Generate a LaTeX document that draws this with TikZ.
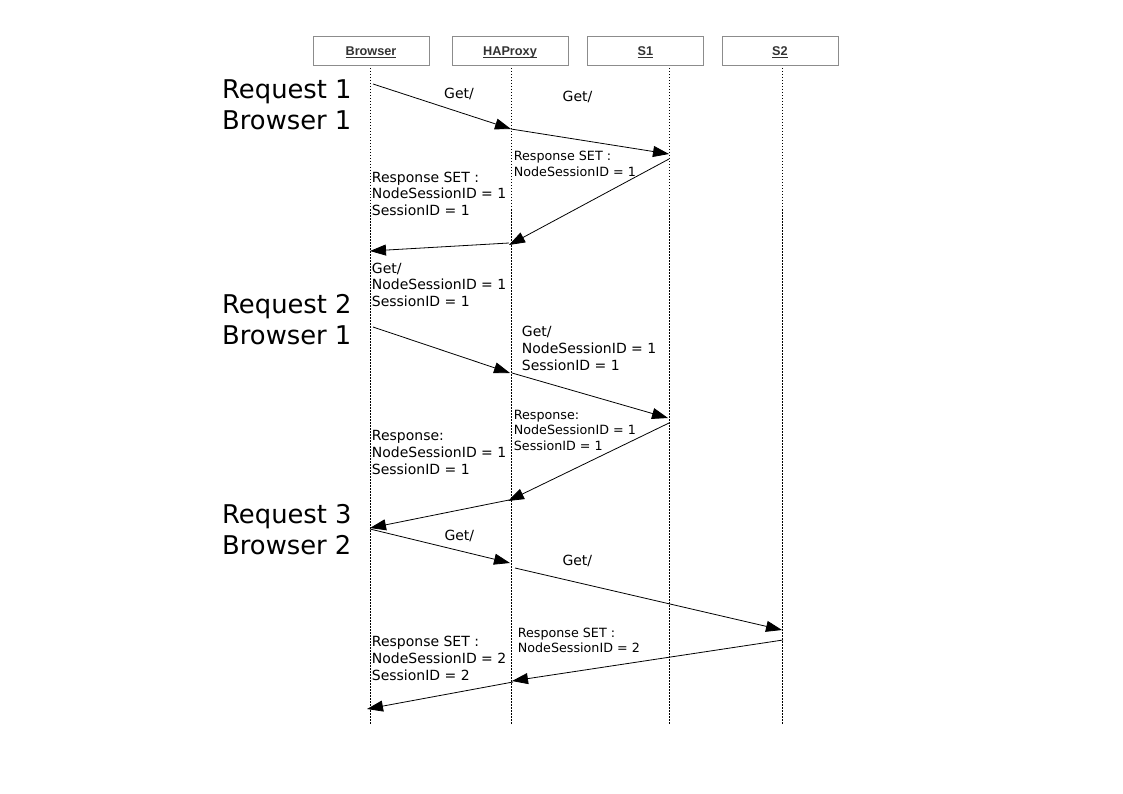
\documentclass[tikz,border=0pt]{standalone}
\usepackage{fontspec}
\setmainfont{DejaVu Sans}
\newfontfamily\hdrfont{Liberation Sans}
\usetikzlibrary{arrows.meta}
\newcommand{\hdrul}[1]{\underline{\smash{#1}}}
\begin{document}
\begin{tikzpicture}[x=1pt,y=-1pt,
  hdrbox/.style={draw=black!45, fill=white, line width=0.8pt, minimum width=116pt, minimum height=29pt, inner sep=0pt, text height=10pt, text depth=0pt, font=\hdrfont\bfseries\fontsize{12.7}{14}\selectfont, text=black!80},
  lifeline/.style={line width=0.8pt, dash pattern=on 1.5pt off 1.5pt},
  msg/.style={line width=0.8pt, -{Triangle[length=16pt,width=11pt]}},
  big/.style={anchor=north west, inner sep=0pt, align=left, font=\fontsize{25.8}{31}\selectfont},
  med/.style={anchor=north west, inner sep=0pt, align=left, font=\fontsize{14}{16.9}\selectfont},
  sml/.style={anchor=north west, inner sep=0pt, align=left, font=\fontsize{12.7}{15.5}\selectfont},
  getlbl/.style={anchor=base west, inner sep=0pt, font=\fontsize{14}{16.9}\selectfont}
]
\useasboundingbox (0,0) rectangle (1123,794);
\fill[white] (0,0) rectangle (1123,794);

% lifelines
\coordinate (BroTop) at (370,65);  \coordinate (BroBot) at (370,725);
\coordinate (HAPTop) at (511,65);  \coordinate (HAPBot) at (511,725);
\coordinate (SoneTop) at (669,65); \coordinate (SoneBot) at (669,725);
\coordinate (StwoTop) at (782,65); \coordinate (StwoBot) at (782,725);
\draw[lifeline] (BroTop) -- (BroBot);
\draw[lifeline] (HAPTop) -- (HAPBot);
\draw[lifeline] (SoneTop) -- (SoneBot);
\draw[lifeline] (StwoTop) -- (StwoBot);

% headers
\node[hdrbox] (Bro) at (371,50.5) {\hdrul{Browser}};
\node[hdrbox] (HAP) at (510,50.5) {\hdrul{HAProxy}};
\node[hdrbox] (Sone) at (645.5,50.5) {\hdrul{S1}};
\node[hdrbox] (Stwo) at (780,50.5) {\hdrul{S2}};

% message end points
\coordinate (a1s) at (373,84);   \coordinate (a1e) at (511,129);
\coordinate (a2s) at (511,129);  \coordinate (a2e) at (669,154);
\coordinate (a3s) at (669,159);  \coordinate (a3e) at (509,245);
\coordinate (a4s) at (509,243);  \coordinate (a4e) at (370,251);
\coordinate (a5s) at (373,327);  \coordinate (a5e) at (510,373);
\coordinate (a6s) at (512,373);  \coordinate (a6e) at (668,418);
\coordinate (a7s) at (669,423);  \coordinate (a7e) at (508,501);
\coordinate (a8s) at (509,500);  \coordinate (a8e) at (370,528);
\coordinate (a9s) at (370,529);  \coordinate (a9e) at (510,563);
\coordinate (a10s) at (515,568); \coordinate (a10e) at (782,630);
\coordinate (a11s) at (783,640); \coordinate (a11e) at (512,681);
\coordinate (a12s) at (513,682); \coordinate (a12e) at (367,709);

\draw[msg] (a1s) -- (a1e);
\draw[msg] (a2s) -- (a2e);
\draw[msg] (a3s) -- (a3e);
\draw[msg] (a4s) -- (a4e);
\draw[msg] (a5s) -- (a5e);
\draw[msg] (a6s) -- (a6e);
\draw[msg] (a7s) -- (a7e);
\draw[msg] (a8s) -- (a8e);
\draw[msg] (a9s) -- (a9e);
\draw[msg] (a10s) -- (a10e);
\draw[msg] (a11s) -- (a11e);
\draw[msg] (a12s) -- (a12e);

% big labels
\node[big] (r1) at (222,79) {Request 1\\Browser 1};
\node[big] (r2) at (222,294) {Request 2\\Browser 1};
\node[big] (r3) at (222,504) {Request 3\\Browser 2};

% message labels
\node[getlbl] (g1) at (444,98.3) {Get/};
\node[getlbl] (g2) at (562.5,101.7) {Get/};
\node[sml] (t1) at (513.7,151.2) {Response SET :\\NodeSessionID = 1};
\node[med] (t2) at (371.7,171.5) {Response SET :\\NodeSessionID = 1\\SessionID = 1};
\node[med] (t3) at (371.7,262.5) {Get/\\NodeSessionID = 1\\SessionID = 1};
\node[med] (t4) at (521.7,325.8) {Get/\\NodeSessionID = 1\\SessionID = 1};
\node[sml] (t5) at (513.7,409.7) {Response:\\NodeSessionID = 1\\SessionID = 1};
\node[med] (t6) at (371.7,430.5) {Response:\\NodeSessionID = 1\\SessionID = 1};
\node[getlbl] (g3) at (444.3,540.7) {Get/};
\node[getlbl] (g4) at (562.3,565.7) {Get/};
\node[sml] (t7) at (517.7,627.4) {Response SET :\\NodeSessionID = 2};
\node[med] (t8) at (371.7,635.8) {Response SET :\\NodeSessionID = 2\\SessionID = 2};
\end{tikzpicture}
\end{document}
